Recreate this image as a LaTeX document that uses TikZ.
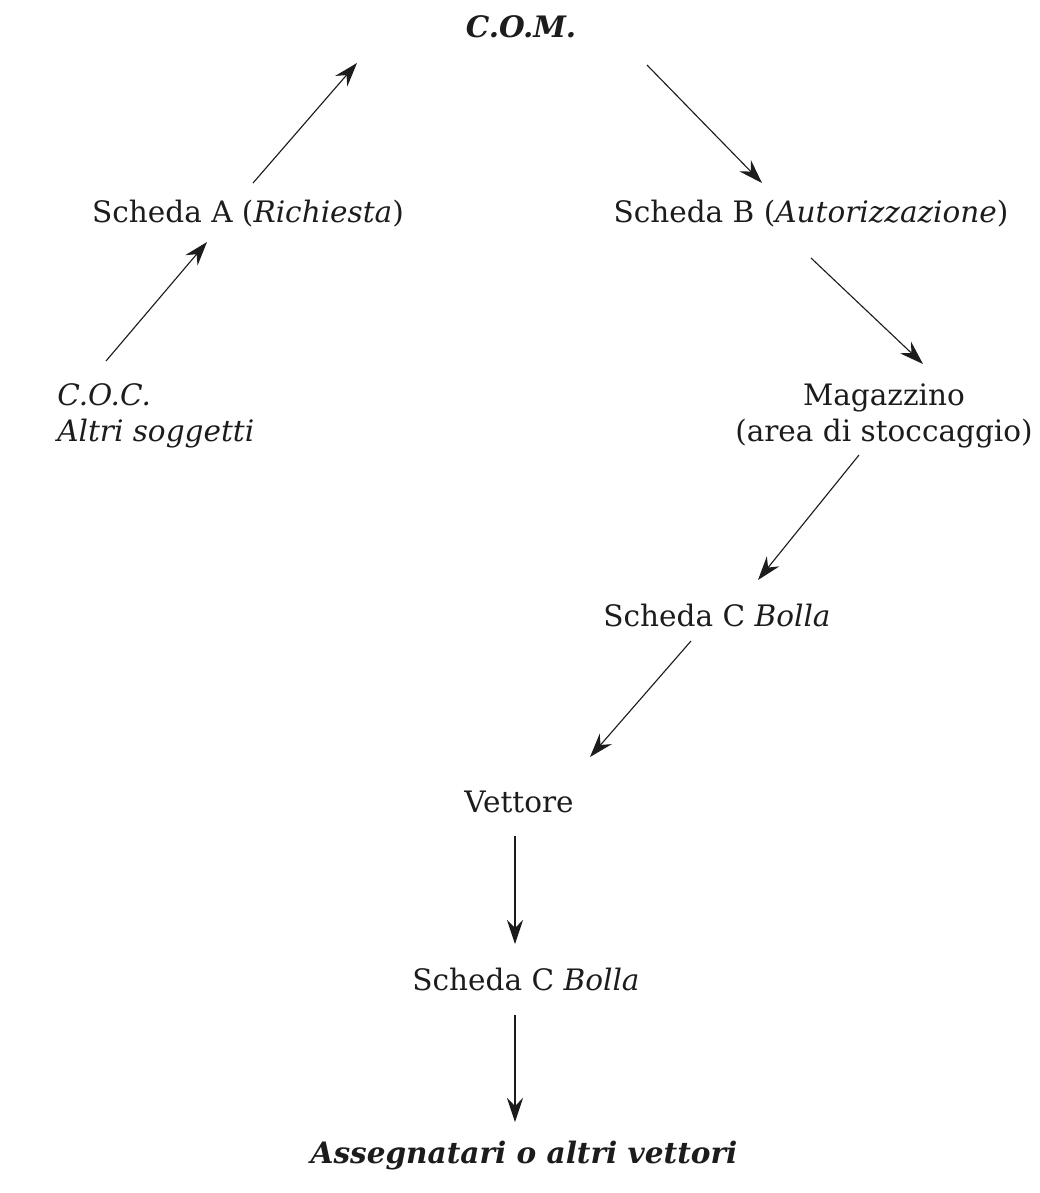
\documentclass[tikz,border=0pt]{standalone}
\usepackage{fontspec}
\setmainfont{DejaVu Serif}
\usetikzlibrary{arrows.meta}
\definecolor{tinta}{HTML}{1C1C1C}
\tikzset{
  % Etiquetas del esquema: texto normal, sin marco
  etiqueta/.style = {inner sep=0pt, color=tinta, font=\fontsize{21}{26}\selectfont},
  % Principio y final del flujo (C.O.M., destinatarios)
  extremo/.style  = {etiqueta, font=\fontsize{21}{26}\selectfont\bfseries\itshape},
  % Flechas del recorrido de las fichas
  flecha/.style   = {line width=0.8pt, color=tinta,
                     -{Stealth[length=6mm, width=4mm, inset=2mm]}},
}

\begin{document}
\begin{tikzpicture}[x=0.025cm, y=-0.025cm]
  \useasboundingbox (0,0) rectangle (1040,1193);

  % ============================================================
  % Nodos (unidad = 1 px de la figura original)
  % ============================================================
  \node[extremo, anchor=base]  (com) at (521,37)  {C.O.M.};
  \node[etiqueta, anchor=base] (sA)  at (248,222) {Scheda A (\textit{Richiesta})};
  \node[etiqueta, anchor=base] (sB)  at (811,222) {Scheda B (\textit{Autorizzazione})};
  \node[etiqueta, anchor=north west, align=left]
                               (coc) at (57,383)  {\textit{C.O.C.}\\ \textit{Altri soggetti}};
  \node[etiqueta, anchor=north, align=center]
                               (mag) at (884,383) {Magazzino\\ (area di stoccaggio)};
  \node[etiqueta, anchor=base] (sC1) at (717,626) {Scheda C \textit{Bolla}};
  \node[etiqueta, anchor=base] (vet) at (519,812) {Vettore};
  \node[etiqueta, anchor=base] (sC2) at (526,990) {Scheda C \textit{Bolla}};
  \node[extremo, anchor=base]  (ass) at (524,1163) {Assegnatari o altri vettori};

  % ============================================================
  % Flechas: no tocan los textos, quedan en el hueco entre ellos
  % ============================================================
  \draw[flecha] ([shift={(49,-22)}]coc.north west) -- ([shift={(-41,20)}]sA.base);
  \draw[flecha] ([shift={(5,-39)}]sA.base)         -- ([shift={(-164,26)}]com.base);
  \draw[flecha] ([shift={(126,28)}]com.base)       -- ([shift={(-49,-39)}]sB.base);
  \draw[flecha] ([shift={(0,36)}]sB.base)          -- ([shift={(39,-19)}]mag.north);
  \draw[flecha] ([shift={(-25,72)}]mag.north)      -- ([shift={(41,-46)}]sC1.base);
  \draw[flecha] ([shift={(-26,15)}]sC1.base)       -- ([shift={(71,-55)}]vet.base);
  \draw[flecha] ([shift={(-4,24)}]vet.base)        -- ([shift={(-11,-46)}]sC2.base);
  \draw[flecha] ([shift={(-11,25)}]sC2.base)       -- ([shift={(-9,-41)}]ass.base);

\end{tikzpicture}
\end{document}
